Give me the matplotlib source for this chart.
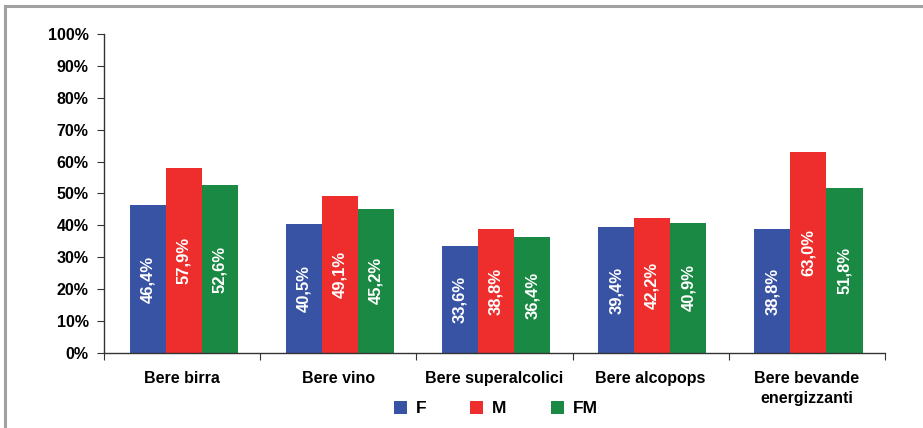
import matplotlib.pyplot as plt
import numpy as np
from matplotlib.lines import Line2D

plt.rcParams['font.family'] = ['Liberation Sans', 'DejaVu Sans']
plt.rcParams['font.weight'] = 'bold'

categorie = ['Bere birra', 'Bere vino', 'Bere superalcolici', 'Bere alcopops',
             'Bere bevande\nenergizzanti']
F = [46.4, 40.5, 33.6, 39.4, 38.8]
M = [57.9, 49.1, 38.8, 42.2, 63.0]
FM = [52.6, 45.2, 36.4, 40.9, 51.8]
serie = [('F', F, '#3953a4'), ('M', M, '#ee2e2c'), ('FM', FM, '#1a8943')]

fig = plt.figure(figsize=(9.23, 4.28), dpi=100)
ax = fig.add_axes([0.1127, 0.1752, 0.8461, 0.7454])

x = np.arange(len(categorie))
w = 0.231
for i, (nome, vals, col) in enumerate(serie):
    pos = x + (i - 1) * w + 0.01
    ax.bar(pos, vals, w, color=col, label=nome)
    for p, v in zip(pos, vals):
        ax.text(p, v / 2, f'{v:.1f}%'.replace('.', ','), rotation=90,
                ha='center', va='center', color='white', fontsize=12,
                fontweight='bold')

ax.set_xlim(-0.5, len(categorie) - 0.5)
ax.set_ylim(0, 100)
ax.set_yticks(range(0, 101, 10))
ax.set_yticklabels([f'{v}%' for v in range(0, 101, 10)], fontsize=11.5)
ax.set_xticks(np.arange(-0.5, len(categorie), 1))
ax.set_xticklabels([])
ax.set_xticks(x, minor=True)
ax.set_xticklabels(categorie, minor=True, fontsize=11.5, va='top', linespacing=1.45)
ax.tick_params(axis='x', which='minor', length=0, pad=13)
ax.tick_params(axis='x', which='major', length=5, color='#333333', direction='out')
ax.tick_params(axis='y', length=5, color='#333333', pad=6)
for s in ['top', 'right']:
    ax.spines[s].set_visible(False)
for s in ['left', 'bottom']:
    ax.spines[s].set_color('#333333')
    ax.spines[s].set_linewidth(1.0)

fig.legend(loc='center', bbox_to_anchor=(0.537, 0.045), ncol=3,
           frameon=False, fontsize=12.5, handlelength=0.75,
           handleheight=0.75, columnspacing=2.55, handletextpad=0.5)

# cornice grigia
fig.add_artist(Line2D([0.0055, 0.0055], [0, 0.986], color='#a0a0a0', lw=2.2,
                      transform=fig.transFigure))
fig.add_artist(Line2D([0.0055, 1], [0.986, 0.986], color='#a0a0a0', lw=2.2,
                      transform=fig.transFigure))

fig.savefig('out.png', dpi=100)
